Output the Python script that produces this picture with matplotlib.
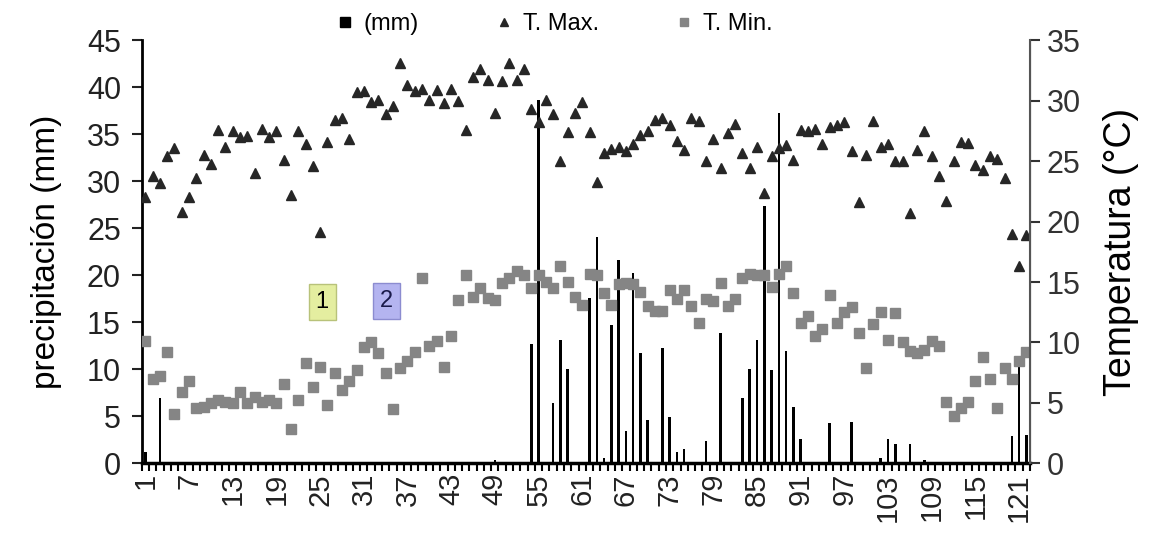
import numpy as np
import matplotlib.pyplot as plt
from matplotlib.lines import Line2D

plt.rcParams['font.family'] = ['Liberation Sans', 'DejaVu Sans']

# ---------------------------------------------------------
# Data, one value per day
# ---------------------------------------------------------
days = list(range(1, 123))

precip_mm = [
    1.2, 0, 6.9, 0, 0, 0, 0, 0, 0, 0,
    0, 0, 0, 0, 0, 0, 0, 0, 0, 0,
    0, 0, 0, 0, 0, 0, 0, 0, 0, 0,
    0, 0, 0, 0, 0, 0, 0, 0, 0, 0,
    0, 0, 0, 0, 0, 0, 0, 0, 0.4, 0,
    0, 0, 0, 12.7, 38.7, 0, 6.4, 13.1, 10.0, 0,
    0, 17.6, 24.1, 0.6, 14.7, 21.6, 3.4, 20.2, 11.7, 4.6,
    0, 12.3, 4.9, 1.2, 1.5, 0, 0, 2.4, 0, 13.9,
    0, 0, 6.9, 10.0, 13.1, 27.4, 9.9, 37.3, 11.9, 6.0,
    2.6, 0, 0, 0, 4.3, 0, 0, 4.4, 0, 0,
    0, 0.6, 2.6, 2.1, 0, 2.1, 0, 0.4, 0, 0,
    0, 0, 0, 0, 0, 0, 0, 0, 0, 2.9,
    10.5, 3.0,
]

t_max = [
    22.0, 23.8, 23.2, 25.4, 26.1, 20.8, 22.0, 23.6, 25.5, 24.8,
    27.6, 26.2, 27.5, 27.0, 27.1, 24.0, 27.7, 27.0, 27.5, 25.1,
    22.2, 27.5, 26.4, 24.6, 19.1, 26.6, 28.4, 28.6, 26.8, 30.7,
    30.8, 29.9, 30.1, 28.9, 29.6, 33.1, 31.3, 30.8, 31.0, 30.1,
    30.9, 29.8, 31.0, 30.0, 27.6, 32.0, 32.6, 31.7, 29.0, 31.6,
    33.1, 31.7, 32.6, 29.3, 28.2, 30.1, 28.9, 25.0, 27.4, 29.0,
    29.9, 27.4, 23.3, 25.7, 26.0, 26.2, 25.8, 26.4, 27.2, 27.5,
    28.4, 28.6, 28.0, 26.7, 25.9, 28.6, 28.3, 25.0, 26.8, 24.4,
    27.3, 28.1, 25.7, 24.4, 26.2, 22.4, 25.4, 26.1, 26.3, 25.1,
    27.6, 27.5, 27.7, 26.4, 27.8, 28.0, 28.2, 25.8, 21.6, 25.5,
    28.3, 26.2, 26.4, 25.0, 25.0, 20.7, 25.9, 27.5, 25.4, 23.8,
    21.7, 25.0, 26.6, 26.5, 24.7, 24.3, 25.4, 25.2, 23.6, 19.0,
    16.3, 18.9,
]

t_min = [
    10.1, 7.0, 7.2, 9.2, 4.1, 5.9, 6.8, 4.6, 4.7, 5.0,
    5.2, 5.1, 5.0, 5.9, 5.0, 5.5, 5.1, 5.2, 5.0, 6.6,
    2.8, 5.2, 8.3, 6.3, 8.0, 4.8, 7.5, 6.1, 6.8, 7.7,
    9.6, 10.0, 9.1, 7.5, 4.5, 7.9, 8.5, 9.2, 15.3, 9.7,
    10.1, 8.0, 10.5, 13.5, 15.6, 13.8, 14.5, 13.7, 13.5, 14.9,
    15.3, 15.9, 15.6, 14.5, 15.6, 15.0, 14.5, 16.3, 15.0, 13.8,
    13.1, 15.7, 15.6, 14.1, 13.1, 14.8, 14.9, 14.8, 14.2, 13.0,
    12.6, 12.6, 14.3, 13.6, 14.3, 13.0, 11.6, 13.6, 13.4, 14.9,
    13.0, 13.6, 15.3, 15.7, 15.6, 15.6, 14.6, 15.7, 16.3, 14.1,
    11.6, 12.2, 10.5, 11.1, 13.9, 11.6, 12.5, 12.9, 10.8, 7.9,
    11.5, 12.5, 10.2, 12.4, 10.0, 9.3, 9.1, 9.4, 10.1, 9.7,
    5.1, 3.9, 4.6, 5.1, 6.8, 8.8, 7.0, 4.6, 7.9, 7.0,
    8.5, 9.2,
]

tick_days = days[::6]
precip_ticks = [0, 5, 10, 15, 20, 25, 30, 35, 40, 45]
temp_ticks = [0, 5, 10, 15, 20, 25, 30, 35]

# ---------------------------------------------------------
# Plot
# ---------------------------------------------------------
fig = plt.figure(figsize=(11.56, 5.35), dpi=100)
ax = fig.add_axes([0.1226, 0.134, 0.7684, 0.7907])
ax2 = ax.twinx()

ax.bar(days, precip_mm, width=0.35, color='black')
ax2.plot(days, t_max, linestyle='none', marker='^', ms=7.5, color='#262626')
ax2.plot(days, t_min, linestyle='none', marker='s', ms=7, color='#858585')

ax.set_xlim(0.5, 122.5)
ax.set_ylim(0, 45)
ax2.set_ylim(0, 35)

ax.set_xticks(tick_days)
ax.set_xticklabels([str(d) for d in tick_days], rotation=90, fontsize=21)
ax.set_xticks(np.arange(0.5, 123, 1), minor=True)
ax.tick_params(axis='x', which='major', length=0, pad=7, colors='#222222')
ax.tick_params(axis='x', which='minor', length=6, width=1.5, direction='out')

ax.set_yticks(precip_ticks)
ax.tick_params(axis='y', labelsize=22, length=7, width=1.5, pad=8,
               colors='#222222')
ax2.set_yticks(temp_ticks)
ax2.tick_params(axis='y', labelsize=22, length=7, width=1.5, pad=5,
                colors='#333333')

ax.set_ylabel('precipitación (mm)', fontsize=24, labelpad=18)
ax2.set_ylabel('Temperatura (°C)', fontsize=27, labelpad=16)

for a in (ax, ax2):
    a.spines['top'].set_visible(False)
ax.spines['left'].set_linewidth(2)
ax.spines['bottom'].set_linewidth(2.5)
ax2.spines['right'].set_linewidth(1.5)
ax2.spines['right'].set_color('#555555')
ax2.spines['left'].set_visible(False)
ax2.spines['bottom'].set_visible(False)

# numbered boxes
ax.text(25.3, 17.2, '1', ha='center', va='center', fontsize=17, color='black',
        bbox=dict(boxstyle='square,pad=0.3', fc='#e4eea0', ec='#b8c27a'))
ax.text(34.1, 17.3, '2', ha='center', va='center', fontsize=17, color='#1a1a4a',
        bbox=dict(boxstyle='square,pad=0.3', fc='#b4b4f0', ec='#8c8cd0'))

handles = [
    Line2D([], [], linestyle='none', marker='s', ms=7, color='black'),
    Line2D([], [], linestyle='none', marker='^', ms=6, color='#262626'),
    Line2D([], [], linestyle='none', marker='s', ms=6, color='#858585'),
]
fig.legend(handles, ['(mm)', 'T. Max.', 'T. Min.'], loc='upper center',
           bbox_to_anchor=(0.479, 1.015), ncol=3, frameon=False, fontsize=17,
           handlelength=0.8, handletextpad=0.4, columnspacing=3.2)

fig.savefig('out.png', dpi=100)
